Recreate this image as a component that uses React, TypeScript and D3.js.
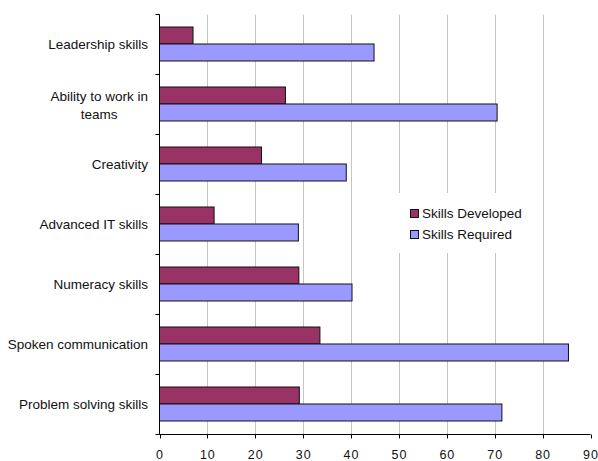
import { useEffect, useRef } from 'react';
import * as d3 from 'd3';

// categories, top to bottom
const categories = [
  ['Leadership skills'],
  ['Ability to work in', 'teams'],
  ['Creativity'],
  ['Advanced IT skills'],
  ['Numeracy skills'],
  ['Spoken communication'],
  ['Problem solving skills'],
];

const seriesNames = ['Skills Developed', 'Skills Required'];
const skillsDeveloped = [7, 26.3, 21.3, 11.4, 29.1, 33.5, 29.2];
const skillsRequired = [44.8, 70.5, 39, 29, 40.2, 85.4, 71.5];
const xTicks = [0, 10, 20, 30, 40, 50, 60, 70, 80, 90];
const colors = ['#993366', '#9999ff'];

const W = 598;
const H = 461;

export default function App() {
  const svgRef = useRef<SVGSVGElement>(null);

  useEffect(() => {
    if (!svgRef.current) return;
    const svg = d3.select(svgRef.current);
    svg.selectAll('*').remove();

    const left = 159.5;
    const right = 590.5;
    const top = 14.5;
    const bottom = 434.5;
    const font = '"Liberation Sans", Arial, Helvetica, sans-serif';

    const x = d3.scaleLinear().domain([0, 90]).range([left, right]);
    const keys = categories.map((c) => c.join(' '));
    const y = d3.scaleBand<string>().domain(keys).range([top, bottom]);
    const ySub = d3
      .scaleBand<string>()
      .domain(seriesNames)
      .range([0, y.bandwidth()])
      .paddingOuter(0.765);

    // gridlines
    svg
      .append('g')
      .selectAll('line')
      .data(xTicks.filter((t) => t > 0 && t < 90))
      .join('line')
      .attr('x1', (d) => Math.round(x(d)) + 0.5)
      .attr('x2', (d) => Math.round(x(d)) + 0.5)
      .attr('y1', top)
      .attr('y2', bottom)
      .attr('stroke', '#c4c4c4')
      .attr('stroke-width', 1);

    // bars
    const rows = keys.map((k, i) => ({ key: k, values: [skillsDeveloped[i], skillsRequired[i]] }));
    const groups = svg
      .append('g')
      .selectAll('g')
      .data(rows)
      .join('g')
      .attr('transform', (d) => `translate(0,${y(d.key)! - 1})`);

    groups
      .selectAll('rect')
      .data((d) => d.values.map((v, j) => ({ v, s: seriesNames[j], j })))
      .join('rect')
      .attr('x', x(0))
      .attr('y', (d) => Math.round(ySub(d.s)!) + 0.5)
      .attr('width', (d) => x(d.v) - x(0))
      .attr('height', Math.round(ySub.bandwidth()))
      .attr('fill', (d) => colors[d.j])
      .attr('stroke', '#111')
      .attr('stroke-width', 1);

    // y axis
    svg
      .append('line')
      .attr('x1', left)
      .attr('x2', left)
      .attr('y1', top)
      .attr('y2', bottom)
      .attr('stroke', '#000');
    const yTickPos = keys.map((k) => y(k)!).concat([bottom]);
    svg
      .append('g')
      .selectAll('line')
      .data(yTickPos)
      .join('line')
      .attr('x1', left - 4)
      .attr('x2', left)
      .attr('y1', (d) => d)
      .attr('y2', (d) => d)
      .attr('stroke', '#000');

    // x axis
    svg
      .append('line')
      .attr('x1', left)
      .attr('x2', right)
      .attr('y1', bottom)
      .attr('y2', bottom)
      .attr('stroke', '#000');
    svg
      .append('g')
      .selectAll('line')
      .data(xTicks)
      .join('line')
      .attr('x1', (d) => Math.round(x(d)) + 0.5)
      .attr('x2', (d) => Math.round(x(d)) + 0.5)
      .attr('y1', bottom)
      .attr('y2', bottom + 4)
      .attr('stroke', '#000');
    svg
      .append('g')
      .selectAll('text')
      .data(xTicks)
      .join('text')
      .attr('x', (d) => x(d) + 0.5)
      .attr('y', 458.5)
      .attr('text-anchor', 'middle')
      .style('font-family', font)
      .style('font-size', '12.5px')
      .style('letter-spacing', '1px')
      .attr('fill', '#111')
      .text((d) => String(d));

    // category labels
    categories.forEach((lines, i) => {
      const cy = y(keys[i])! + y.bandwidth() / 2;
      const lh = 16;
      const startY = cy + 4.5 - ((lines.length - 1) * lh) / 2;
      const first = svg
        .append('text')
        .attr('x', 148)
        .attr('y', startY)
        .attr('text-anchor', 'end')
        .style('font-family', font)
        .style('font-size', '13.5px')
        .attr('fill', '#111')
        .text(lines[0]);
      if (lines.length > 1) {
        const w = (first.node() as SVGTextElement).getComputedTextLength();
        lines.slice(1).forEach((ln, j) => {
          svg
            .append('text')
            .attr('x', 148 - w / 2)
            .attr('y', startY + lh * (j + 1) + 2)
            .attr('text-anchor', 'middle')
            .style('font-family', font)
            .style('font-size', '13.5px')
            .attr('fill', '#111')
            .text(ln);
        });
      }
    });

    // legend
    const legend = svg.append('g').attr('transform', 'translate(396,193)');
    legend.append('rect').attr('width', 134).attr('height', 60).attr('fill', '#fff');
    seriesNames.forEach((name, i) => {
      const g = legend.append('g').attr('transform', `translate(14,${16 + i * 21})`);
      g.append('rect')
        .attr('x', 0.5)
        .attr('y', 0.5)
        .attr('width', 8)
        .attr('height', 8)
        .attr('fill', colors[i])
        .attr('stroke', '#111');
      g.append('text')
        .attr('x', 12)
        .attr('y', 8.5)
        .style('font-family', font)
        .style('font-size', '13.5px')
        .attr('fill', '#111')
        .text(name);
    });
  }, []);

  return (
    <div style={{ position: 'absolute', left: 0, top: 0, background: '#fff' }}>
      <svg ref={svgRef} width={W} height={H} style={{ display: 'block' }} />
    </div>
  );
}
